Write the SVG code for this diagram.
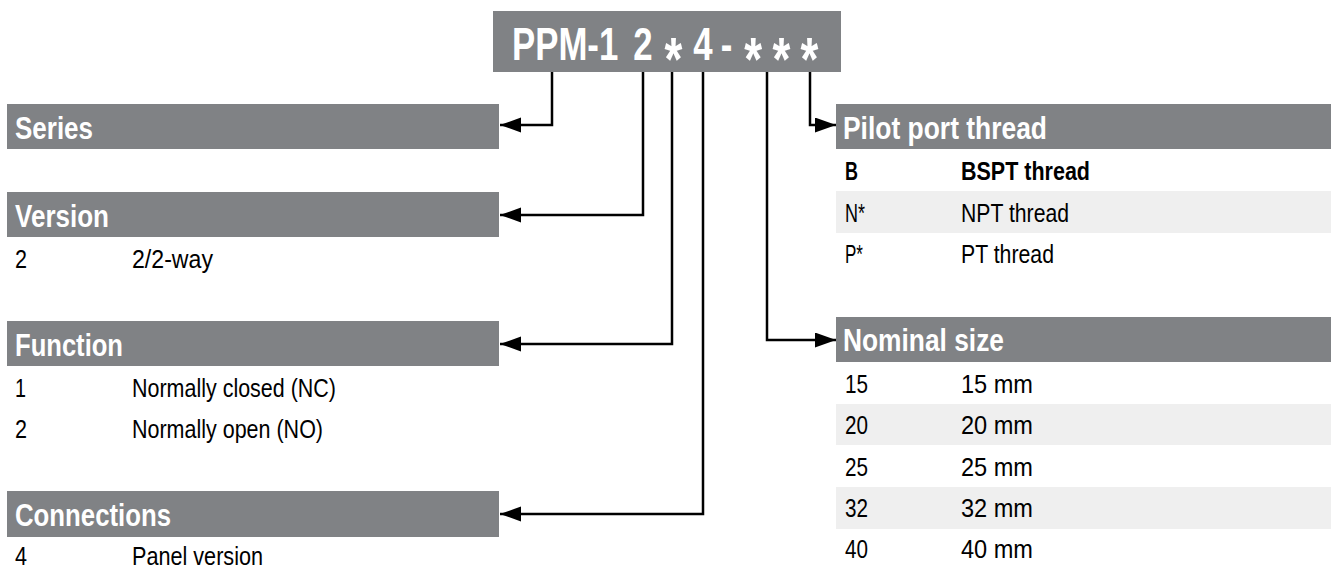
<svg xmlns="http://www.w3.org/2000/svg" width="1339" height="569" viewBox="0 0 1339 569">
<style>
.hdr{fill:#808285}
.band{fill:#efefef}
text{font-family:"Liberation Sans",Arial,sans-serif}
.ht{font-weight:bold;font-size:32px;fill:#fff}
.bt{font-size:25px;fill:#000}
.bb{font-weight:bold}
.title{font-size:47px;font-weight:bold;fill:#fff}
.star{font-size:62px}
.conn{fill:none;stroke:#000;stroke-width:2.5}
</style>
<defs>
<marker id="arr" markerUnits="userSpaceOnUse" markerWidth="22" markerHeight="16" refX="21" refY="7.5" orient="auto">
<path d="M0,0 L21,7.5 L0,15 Z" fill="#000"/>
</marker>
</defs>
<rect width="1339" height="569" fill="#fff"/>

<g id="title">
<rect class="hdr" x="493" y="11" width="348" height="61"/>
<text class="title" transform="translate(512,0) scale(0.74,1)" y="60"><tspan x="0">PPM-1 </tspan><tspan x="164">2 </tspan><tspan class="star" x="206" y="80">* </tspan><tspan x="245" y="60">4 </tspan><tspan x="282">- </tspan><tspan class="star" x="314" y="80">* </tspan><tspan class="star" x="352">* </tspan><tspan class="star" x="390">*</tspan></text>
</g>

<g id="series">
<rect class="hdr" x="7" y="104" width="492" height="45"/>
<text class="ht" x="15" y="139" textLength="78" lengthAdjust="spacingAndGlyphs">Series</text>
</g>

<g id="version">
<rect class="hdr" x="7" y="192" width="492" height="45"/>
<text class="ht" x="15" y="227" textLength="94" lengthAdjust="spacingAndGlyphs">Version</text>
<text class="bt" x="15" y="268" textLength="12" lengthAdjust="spacingAndGlyphs">2</text>
<text class="bt" x="132" y="268" textLength="81" lengthAdjust="spacingAndGlyphs">2/2-way</text>
</g>

<g id="function">
<rect class="hdr" x="7" y="321" width="492" height="45"/>
<text class="ht" x="15" y="356" textLength="108" lengthAdjust="spacingAndGlyphs">Function</text>
<text class="bt" x="15" y="397" textLength="11" lengthAdjust="spacingAndGlyphs">1</text>
<text class="bt" x="132" y="397" textLength="204" lengthAdjust="spacingAndGlyphs">Normally closed (NC)</text>
<text class="bt" x="15" y="438" textLength="12" lengthAdjust="spacingAndGlyphs">2</text>
<text class="bt" x="132" y="438" textLength="191" lengthAdjust="spacingAndGlyphs">Normally open (NO)</text>
</g>

<g id="connections">
<rect class="hdr" x="7" y="491" width="492" height="46"/>
<text class="ht" x="15" y="526" textLength="156" lengthAdjust="spacingAndGlyphs">Connections</text>
<text class="bt" x="15" y="565" textLength="12" lengthAdjust="spacingAndGlyphs">4</text>
<text class="bt" x="132" y="565" textLength="131" lengthAdjust="spacingAndGlyphs">Panel version</text>
</g>

<g id="pilot">
<rect class="hdr" x="836" y="104" width="495" height="45"/>
<text class="ht" x="843" y="139" textLength="204" lengthAdjust="spacingAndGlyphs">Pilot port thread</text>
<rect class="band" x="836" y="191" width="495" height="42"/>
<text class="bt bb" x="845" y="180" textLength="13" lengthAdjust="spacingAndGlyphs">B</text>
<text class="bt bb" x="961" y="180" textLength="129" lengthAdjust="spacingAndGlyphs">BSPT thread</text>
<text class="bt" x="845" y="222" textLength="20" lengthAdjust="spacingAndGlyphs">N*</text>
<text class="bt" x="961" y="222" textLength="108" lengthAdjust="spacingAndGlyphs">NPT thread</text>
<text class="bt" x="845" y="263" textLength="18" lengthAdjust="spacingAndGlyphs">P*</text>
<text class="bt" x="961" y="263" textLength="93" lengthAdjust="spacingAndGlyphs">PT thread</text>
</g>

<g id="nominal">
<rect class="hdr" x="836" y="317" width="495" height="45"/>
<text class="ht" x="843" y="351" textLength="161" lengthAdjust="spacingAndGlyphs">Nominal size</text>
<rect class="band" x="836" y="404" width="495" height="41"/>
<rect class="band" x="836" y="487" width="495" height="42"/>
<text class="bt" x="845" y="393" textLength="23" lengthAdjust="spacingAndGlyphs">15</text>
<text class="bt" x="961" y="393" textLength="72" lengthAdjust="spacingAndGlyphs">15 mm</text>
<text class="bt" x="845" y="434" textLength="23" lengthAdjust="spacingAndGlyphs">20</text>
<text class="bt" x="961" y="434" textLength="72" lengthAdjust="spacingAndGlyphs">20 mm</text>
<text class="bt" x="845" y="476" textLength="23" lengthAdjust="spacingAndGlyphs">25</text>
<text class="bt" x="961" y="476" textLength="72" lengthAdjust="spacingAndGlyphs">25 mm</text>
<text class="bt" x="845" y="517" textLength="23" lengthAdjust="spacingAndGlyphs">32</text>
<text class="bt" x="961" y="517" textLength="72" lengthAdjust="spacingAndGlyphs">32 mm</text>
<text class="bt" x="845" y="558" textLength="23" lengthAdjust="spacingAndGlyphs">40</text>
<text class="bt" x="961" y="558" textLength="72" lengthAdjust="spacingAndGlyphs">40 mm</text>
</g>

<g id="connectors">
<path class="conn" d="M552,72 V125 H500" marker-end="url(#arr)"/>
<path class="conn" d="M643,72 V215 H500" marker-end="url(#arr)"/>
<path class="conn" d="M672,72 V344 H500" marker-end="url(#arr)"/>
<path class="conn" d="M703,72 V514 H500" marker-end="url(#arr)"/>
<path class="conn" d="M810,72 V125 H836" marker-end="url(#arr)"/>
<path class="conn" d="M767,72 V340 H836" marker-end="url(#arr)"/>
</g>
</svg>
